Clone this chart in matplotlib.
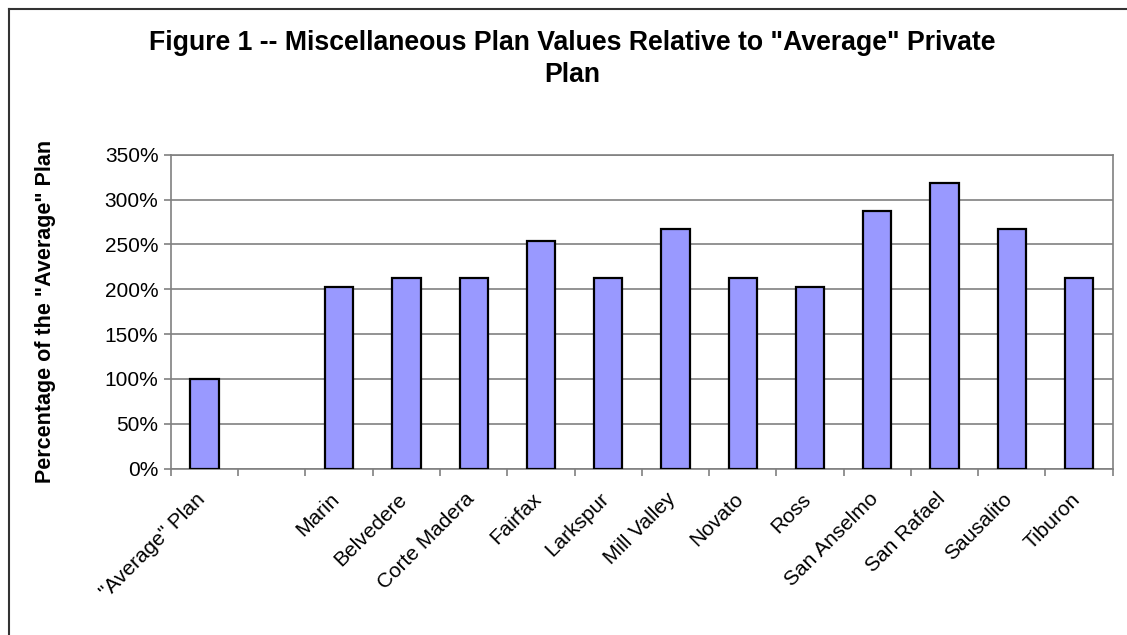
import numpy as np
import matplotlib
matplotlib.use("Agg")
import matplotlib.pyplot as plt
from matplotlib.lines import Line2D
from matplotlib.ticker import FuncFormatter, MultipleLocator
from matplotlib.transforms import ScaledTranslation

plt.rcParams['font.family'] = ['Liberation Sans', 'DejaVu Sans']

# categories (blank slot between the average plan and the towns)
categories = ['"Average" Plan', '', 'Marin', 'Belvedere', 'Corte Madera', 'Fairfax',
              'Larkspur', 'Mill Valley', 'Novato', 'Ross', 'San Anselmo',
              'San Rafael', 'Sausalito', 'Tiburon']
# percent of the "average" private plan (nan = empty slot)
values = [100, np.nan, 202, 213, 213, 254, 213, 267, 213, 202, 287, 318, 267, 213]

fig = plt.figure(figsize=(11.27, 6.35), dpi=100)
ax = fig.add_axes([0.1517, 0.2619, 0.8356, 0.4945])

x = np.arange(len(categories))
ax.bar(x, values, width=0.42, color='#9999FF', edgecolor='black', linewidth=1.6, zorder=3)

ax.set_xlim(-0.5, len(categories) - 0.5)
ax.set_ylim(0, 350)
ax.yaxis.set_major_locator(MultipleLocator(50))
ax.yaxis.set_major_formatter(FuncFormatter(lambda v, p: f"{v:.0f}%"))
ax.grid(axis='y', color='#808080', linewidth=1.2, zorder=0)

# ticks between categories, labels under the bars
ax.set_xticks(np.arange(len(categories) + 1) - 0.5)
ax.set_xticklabels([])
ax.set_xticks(x, minor=True)
ax.set_xticklabels(categories, minor=True, rotation=45, ha='right', va='top',
                   rotation_mode='anchor', fontsize=15)
ax.tick_params(axis='x', which='minor', length=0, pad=15)
ax.tick_params(axis='x', which='major', length=5, color='#808080', width=1.2)
ax.tick_params(axis='y', length=5, color='#808080', width=1.2, labelsize=15, pad=4)
shift = ScaledTranslation(-9 / 100, 0, fig.dpi_scale_trans)
for lab in ax.get_xticklabels(minor=True):
    lab.set_transform(lab.get_transform() + shift)

for s in ax.spines.values():
    s.set_color('#808080')
    s.set_linewidth(1.2)

ax.set_ylabel('Percentage of the "Average" Plan', fontsize=15.5, fontweight='bold')
ax.yaxis.set_label_coords(-0.122, 0.5)

fig.text(0.508, 0.907, 'Figure 1 -- Miscellaneous Plan Values Relative to "Average" Private\nPlan',
         ha='center', va='center', fontsize=19.2, fontweight='bold', linespacing=1.32)

# outer chart border (left and top edges are inside the picture)
bx, by = 9 / 1127, 1 - 9 / 635
fig.lines.append(Line2D([bx, bx], [-0.1, by], transform=fig.transFigure, color='#333333', linewidth=1.5))
fig.lines.append(Line2D([bx, 1.1], [by, by], transform=fig.transFigure, color='#333333', linewidth=1.5))

fig.savefig('out.png', dpi=100)
